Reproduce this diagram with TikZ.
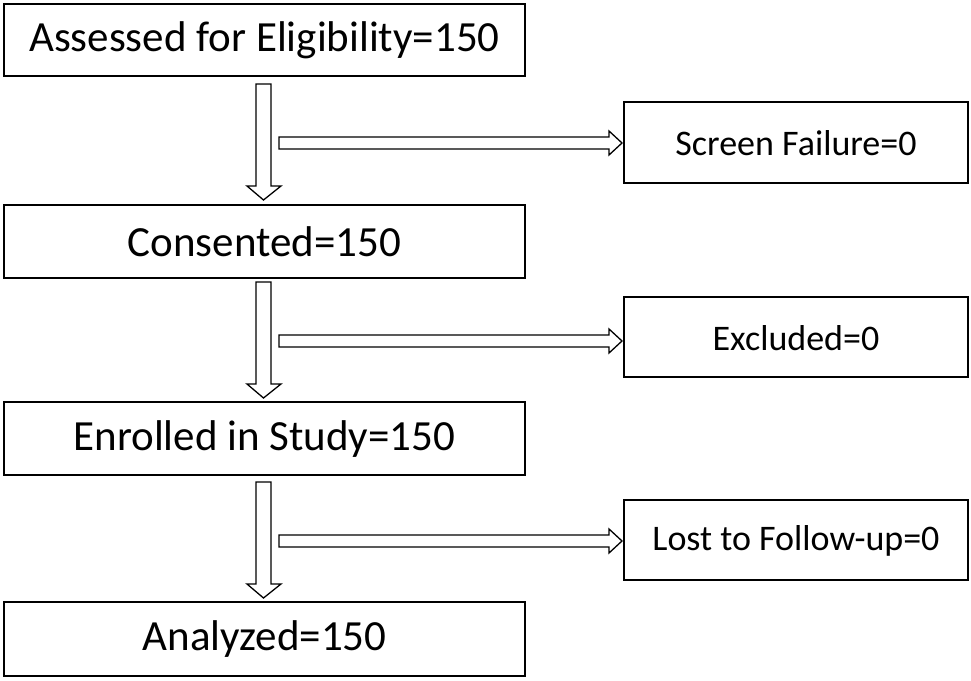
\documentclass[tikz,border=0pt]{standalone}
\usepackage{fontspec}
\setmainfont{Carlito}
\begin{document}
\begin{tikzpicture}[x=1pt,y=-1pt,
  box/.style={draw,line width=1.6pt,inner sep=0pt},
  harrow/.style={draw,line width=1.3pt,line join=miter},
  big/.style={font=\fontsize{43}{46}\selectfont},
  small/.style={font=\fontsize{36}{40}\selectfont}]
\useasboundingbox (0,0) rectangle (971,680);
\draw[box] (4,4) rectangle (525,76);
\node[big] (a) at (264.5,40) {Assessed for Eligibility=150};
\draw[box] (4,205) rectangle (525,278);
\node[big] (b) at (264.5,242) {Consented=150};
\draw[box] (4,402) rectangle (525,475);
\node[big] (c) at (264.5,439) {Enrolled in Study=150};
\draw[box] (4,602) rectangle (525,676);
\node[big] (d) at (264.5,639) {Analyzed=150};
\draw[box] (624,102) rectangle (968,183);
\node[small] (s) at (796,143) {Screen Failure=0};
\draw[box] (624,297) rectangle (968,377);
\node[small] (e) at (796,338) {Excluded=0};
\draw[box] (624,500) rectangle (968,580);
\node[small] (l) at (796,541) {Lost to Follow-up=0};
\foreach \t in {0,198,398}{
  \draw[harrow] (256,84+\t) -- (271,84+\t) -- (271,186+\t) -- (281,186+\t) -- (263.5,200+\t) -- (247,186+\t) -- (256,186+\t) -- cycle;
  \draw[harrow] (279,137+\t) -- (609,137+\t) -- (609,131+\t) -- (622,143+\t) -- (609,155+\t) -- (609,149+\t) -- (279,149+\t) -- cycle;
}
\end{tikzpicture}
\end{document}
